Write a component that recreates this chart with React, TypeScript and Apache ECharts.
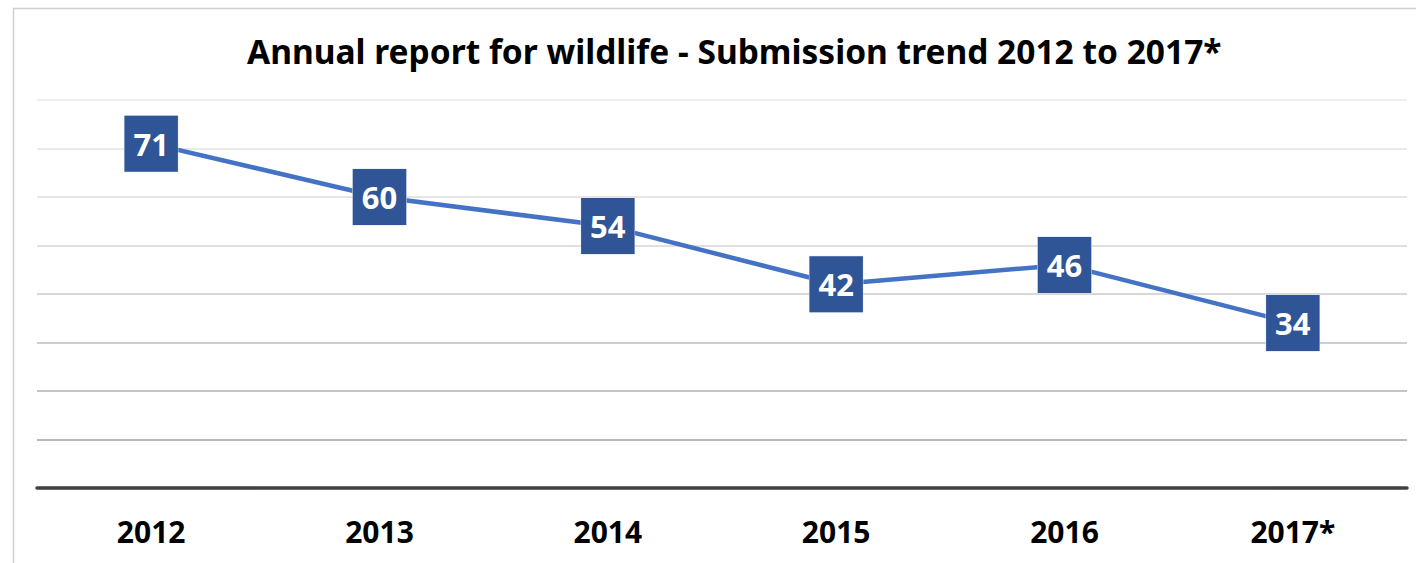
import React, { useEffect, useRef } from "react";
import * as echarts from "echarts";

const titleText = "Annual report for wildlife - Submission trend 2012 to 2017*";
const categories = ["2012", "2013", "2014", "2015", "2016", "2017*"];
const submissions = [71, 60, 54, 42, 46, 34];
const gridColors = ["#404040", "#a3a3a3", "#b0b0b0", "#bfbfbf", "#cbcbcb", "#d6d6d6", "#dedede", "#e3e3e3", "#e8e8e8"];

export default function App() {
  const ref = useRef<HTMLDivElement>(null);
  useEffect(() => {
    document.body.style.margin = "0";
    const chart = echarts.init(ref.current!, null, { renderer: "svg" });
    const font = "'Noto Sans', sans-serif";
    chart.setOption({
      animation: false,
      backgroundColor: "#ffffff",
      title: {
        text: titleText,
        left: 242,
        top: 29,
        textStyle: { fontFamily: font, fontWeight: "bold", fontSize: 33.5, color: "#000000" },
      },
      graphic: [
        {
          type: "rect",
          shape: { x: 13.5, y: 8.5, width: 1500, height: 700 },
          style: { fill: "none", stroke: "#d0d0d0", lineWidth: 1.5 },
          silent: true,
        },
      ],
      grid: { left: 37, right: 9, top: 100, bottom: 75, containLabel: false },
      xAxis: {
        type: "category",
        data: categories,
        boundaryGap: true,
        axisLine: { show: true, lineStyle: { color: "#404040", width: 3.5 } },
        axisTick: { show: false },
        axisLabel: { margin: 28, fontFamily: font, fontWeight: "bold", fontSize: 30, color: "#000000" },
      },
      yAxis: {
        type: "value",
        min: 0,
        max: 80,
        interval: 10,
        axisLabel: { show: false },
        axisLine: { show: false },
        axisTick: { show: false },
        splitLine: { show: true, lineStyle: { color: gridColors, width: 1.5 } },
      },
      series: [
        {
          type: "line",
          data: submissions,
          symbol: "circle",
          symbolSize: 1,
          showSymbol: true,
          lineStyle: { color: "#4472c4", width: 4.5 },
          itemStyle: { color: "#4472c4" },
          z: 3,
          label: {
            show: true,
            position: "inside",
            fontFamily: font,
            fontWeight: "bold",
            fontSize: 31,
            color: "#ffffff",
            backgroundColor: "#2f5597",
            borderColor: "#d9e1f2",
            borderWidth: 0.5,
            lineHeight: 34,
            padding: [11, 9, 11, 9],
          },
        },
      ],
    });
    return () => chart.dispose();
  }, []);
  return <div ref={ref} style={{ width: 1416, height: 563 }} />;
}
